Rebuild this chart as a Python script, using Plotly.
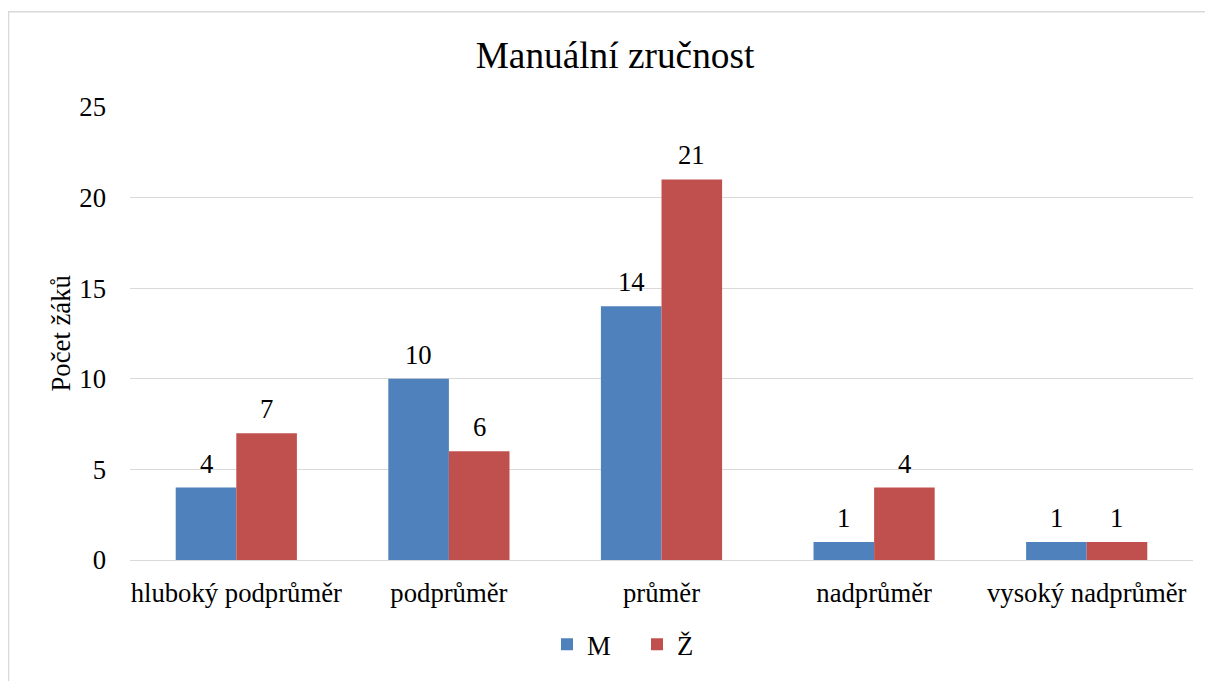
import plotly.graph_objects as go

categories = ["hluboký podprůměr", "podprůměr", "průměr", "nadprůměr", "vysoký nadprůměr"]
m_values = [4, 10, 14, 1, 1]
z_values = [7, 6, 21, 4, 1]
series_names = ["M", "Ž"]
y_ticks = [0, 5, 10, 15, 20, 25]

FONT = "Liberation Serif"
FS = 26.7
OFF = 8  # page body margin
W, H = 1213 - OFF, 681 - OFF
L, R, T, B = 130 - OFF, 20, 107 - OFF, 118
pw, ph = W - L - R, H - T - B

colors = ["#4F81BD", "#C0504D"]

fig = go.Figure()
for name, vals, col in zip(series_names, [m_values, z_values], colors):
    fig.add_trace(go.Bar(name=name, x=categories, y=vals, marker_color=col,
                         marker_line_width=0))

# data labels
bar_px = pw / len(categories) * (1 - 0.43) / 2
annotations = []
for i, vals in enumerate([m_values, z_values]):
    shift = (i - 0.5) * bar_px
    for c, v in zip(categories, vals):
        annotations.append(dict(x=c, y=v, xref="x", yref="y", text=str(v), showarrow=False,
                                xshift=shift, yshift=7, yanchor="bottom", xanchor="center",
                                font=dict(family=FONT, size=FS, color="black")))

annotations.append(dict(text="Počet žáků", xref="paper", yref="paper", x=(60 - 130) / pw, y=0.5,
                        textangle=-90, showarrow=False, xanchor="center", yanchor="middle",
                        font=dict(family=FONT, size=FS, color="black")))

fig.update_layout(
    width=W, height=H,
    margin=dict(l=L, r=R, t=T, b=B),
    paper_bgcolor="white", plot_bgcolor="white",
    barmode="group", bargap=0.43, bargroupgap=0,
    font=dict(family=FONT, size=FS, color="black"),
    title=dict(text="Manuální zručnost", font=dict(family=FONT, size=37.3, color="black"),
               x=(615 - 130) / pw, xref="paper", xanchor="center",
               y=1 - (55 - OFF) / H, yref="container", yanchor="middle"),
    legend=dict(orientation="h", x=(547 - 130) / pw, xanchor="left",
                y=(563 - 648) / ph, yanchor="middle",
                font=dict(family=FONT, size=FS), itemwidth=30, traceorder="normal",
                entrywidth=45, entrywidthmode="pixels"),
    xaxis=dict(showgrid=False, showline=False, ticks="", tickfont=dict(family=FONT, size=FS),
               ticklabelstandoff=14),
    yaxis=dict(range=[0, 25], tickvals=y_ticks, showgrid=True, gridcolor="#D9D9D9", gridwidth=1,
               zeroline=True, zerolinecolor="#D9D9D9", zerolinewidth=1, showline=False,
               tickfont=dict(family=FONT, size=FS), ticklabelstandoff=23),
    shapes=[dict(type="rect", xref="paper", yref="paper",
                 x0=(0.5 - L) / pw, x1=1.2, y0=-0.4, y1=(563 - 11) / ph,
                 line=dict(color="#D9D9D9", width=1.5), fillcolor="rgba(0,0,0,0)", layer="below")],
    annotations=annotations,
)

fig.write_html("out.html")
